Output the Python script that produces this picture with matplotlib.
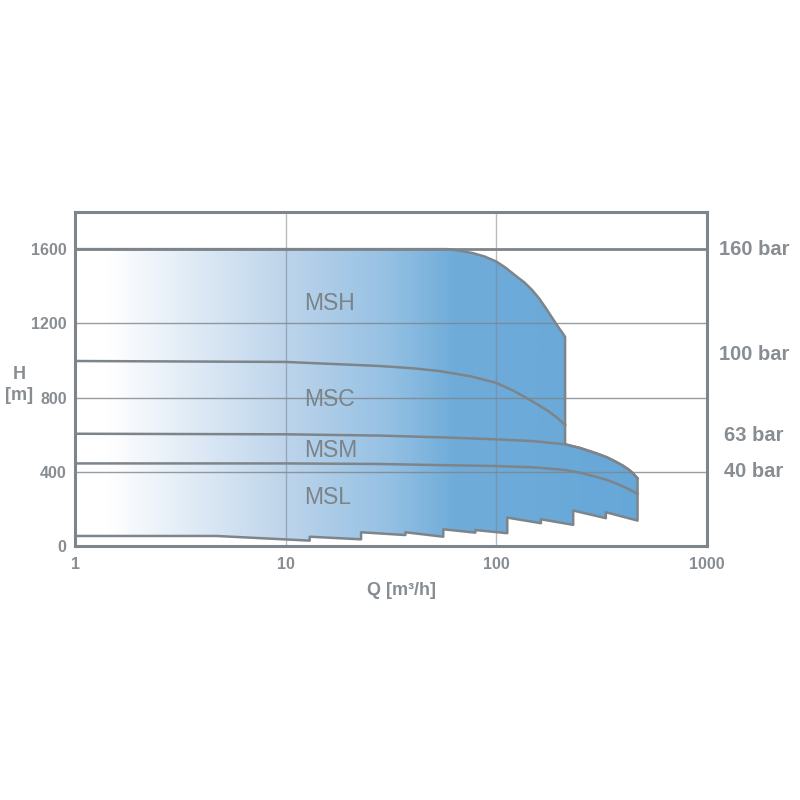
import numpy as np
import matplotlib
matplotlib.use("Agg")
import matplotlib.pyplot as plt
from matplotlib.colors import LinearSegmentedColormap
from matplotlib.patches import Polygon

plt.rcParams['font.family'] = ['Liberation Sans', 'DejaVu Sans']

# pump ranges: Q [m3/h], H [m]
msh_q = [1, 58, 65, 77, 88, 100, 110, 124, 136, 148, 160, 172, 186, 199, 206, 212]
msh_h = [1600, 1600, 1594, 1579, 1560, 1533, 1502, 1455, 1420, 1379, 1333, 1281, 1222, 1172, 1148, 1127]

msc_q = [1, 10, 28, 40, 53.5, 75, 99.5, 120, 143, 160, 178, 195, 212]
msc_h = [997, 992, 970, 958, 943, 915, 880, 838, 790, 757, 724, 690, 652]

msm_q = [1, 10, 28, 53.5, 99.5, 150, 212, 250, 297, 335, 369, 400, 427, 445, 459, 468]
msm_h = [605, 602, 595, 586, 575, 565, 548, 528, 500, 478, 454, 432, 410, 392, 375, 365]

msl_q = [1, 10, 28, 53.5, 99.5, 150, 212, 250, 297, 335, 369, 410, 459, 468]
msl_h = [445, 445, 442, 436, 431, 424, 410, 395, 373, 356, 338, 315, 287, 280]

# lower (sawtooth) limit, left to right
base_q = [1, 4.7, 13, 13, 22.8, 22.8, 37, 37, 56, 56, 79.5, 79.5, 112.7, 112.7,
          162.8, 162.8, 231.7, 231.7, 331, 331, 468]
base_h = [54, 54, 29, 50, 36, 74, 59, 74, 50, 90, 72, 86, 69, 153,
          123, 144, 114, 191, 150, 182, 137]

range_names = ["MSH", "MSC", "MSM", "MSL"]
range_pos = [(12.2, 1309), (12.2, 787), (12.2, 512), (12.2, 264)]

bar_labels = ["160 bar", "100 bar", "63 bar", "40 bar"]
bar_h = [1600, 1032, 598, 399]

x_ticks = [1, 10, 100, 1000]
y_ticks = [0, 400, 800, 1200, 1600]

gray = '#7d858b'
text_gray = '#878d92'

fig = plt.figure(figsize=(8, 8), dpi=100)
ax = fig.add_axes([0.09375, 0.3175, 0.79, 0.4175])
ax.set_xscale('log')
ax.set_xlim(1, 1000)
ax.set_ylim(0, 1800)
ax.set_autoscale_on(False)

# outer envelope: MSH top, then MSM beyond MSH end, then base back to start
env_q = list(msh_q) + [q for q in msm_q if q >= 212] + base_q[::-1]
env_h = list(msh_h) + [h for q, h in zip(msm_q, msm_h) if q >= 212] + base_h[::-1]
env = np.column_stack([env_q, env_h])

cmap = LinearSegmentedColormap.from_list(
    'pump', [(0, '#ffffff'), (0.05, '#ffffff'), (0.333, '#bdd4eb'),
             (0.5, '#94c0e3'), (0.6, '#70acda'), (1.0, '#62a6d7')])
grad = np.linspace(0, 1, 600).reshape(1, -1)
im = ax.imshow(grad, cmap=cmap, aspect='auto', extent=(0, 1, 0, 1),
               transform=ax.transAxes, zorder=1, interpolation='bilinear')
clip = Polygon(env, closed=True, transform=ax.transData, facecolor='none', edgecolor='none')
ax.add_patch(clip)
im.set_clip_path(clip)

# grid
for q in [10, 100]:
    ax.axvline(q, color=gray, lw=1.0, alpha=0.55, zorder=2)
for h in [400, 800, 1200]:
    ax.axhline(h, color=gray, lw=1.0, alpha=0.8, zorder=2)
ax.axhline(1600, color=gray, lw=2.0, zorder=3)

# curves
ax.add_patch(Polygon(env, closed=True, facecolor='none', edgecolor=gray, lw=1.8,
                     joinstyle='round', zorder=4))
ax.plot(msc_q, msc_h, color=gray, lw=1.8, zorder=4, solid_joinstyle='round')
ax.plot(msm_q, msm_h, color=gray, lw=1.8, zorder=4, solid_joinstyle='round')
ax.plot(msl_q, msl_h, color=gray, lw=1.8, zorder=4, solid_joinstyle='round')

for name, (q, h) in zip(range_names, range_pos):
    ax.text(q, h, name, color='#7b8388', fontsize=16.5, ha='left', va='center', zorder=5)

for lab, h in zip(bar_labels, bar_h):
    ax.text(1.074, h, lab, transform=ax.get_yaxis_transform(), color=text_gray,
            fontsize=14.5, fontweight='bold', ha='center', va='center')

ax.set_xticks(x_ticks)
ax.set_xticklabels([str(t) for t in x_ticks])
ax.set_yticks(y_ticks)
ax.set_yticklabels([str(t) for t in y_ticks])
ax.minorticks_off()
ax.tick_params(length=0, labelsize=11.5, labelcolor=text_gray)
ax.tick_params(axis='x', pad=8)
ax.tick_params(axis='y', pad=6)
for lab in ax.get_xticklabels() + ax.get_yticklabels():
    lab.set_fontweight('bold')

ax.set_xlabel('Q [m³/h]', fontsize=13, fontweight='bold', color=text_gray)
ax.xaxis.set_label_coords(0.517, -0.108)
ax.set_ylabel('H\n[m]', rotation=0, fontsize=13, fontweight='bold', color=text_gray,
              ha='center', va='center', linespacing=1.3)
ax.yaxis.set_label_coords(-0.089, 0.482)

for s in ax.spines.values():
    s.set_color(gray)
    s.set_linewidth(2.2)
    s.set_zorder(6)

fig.savefig('out.png', dpi=100, facecolor='white')
